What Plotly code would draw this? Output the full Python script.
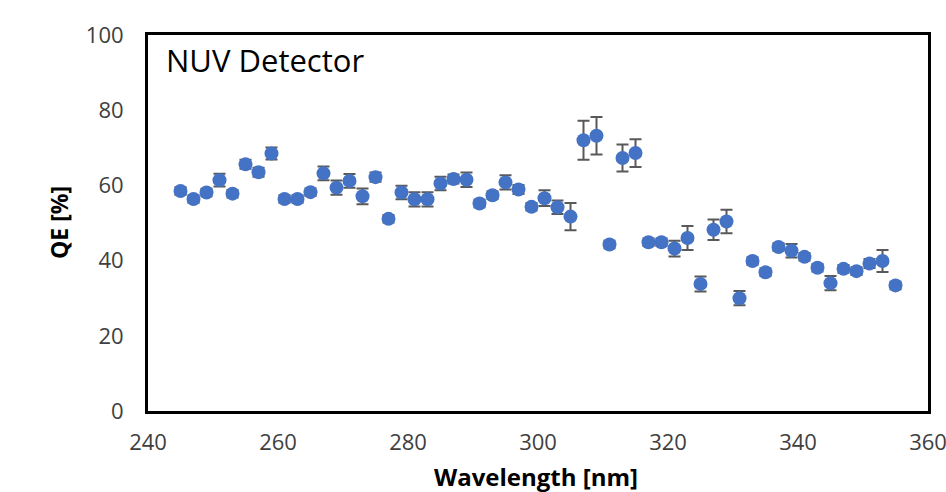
import plotly.graph_objects as go

wavelength = [245, 247, 249, 251, 253, 255, 257, 259, 261, 263, 265, 267, 269, 271,
              273, 275, 277, 279, 281, 283, 285, 287, 289, 291, 293, 295, 297, 299,
              301, 303, 305, 307, 309, 311, 313, 315, 317, 319, 321, 323, 325, 327,
              329, 331, 333, 335, 337, 339, 341, 343, 345, 347, 349, 351, 353, 355]
qe = [58.5, 56.4, 58.1, 61.4, 57.8, 65.6, 63.5, 68.5, 56.4, 56.4, 58.2, 63.2, 59.4, 61.2,
      57.1, 62.2, 51.1, 58.1, 56.3, 56.3, 60.5, 61.7, 61.5, 55.2, 57.4, 60.8, 58.9, 54.3,
      56.6, 54.2, 51.7, 72.0, 73.2, 44.3, 67.3, 68.6, 44.9, 44.9, 43.2, 46.0, 33.8, 48.2,
      50.4, 30.0, 39.9, 36.9, 43.6, 42.6, 41.0, 38.1, 34.0, 37.8, 37.2, 39.2, 39.9, 33.4]
qe_err = [1.0, 1.0, 1.0, 1.7, 1.0, 1.2, 1.2, 1.6, 1.0, 1.0, 1.0, 1.8, 1.9, 1.8,
          2.1, 1.2, 1.0, 1.8, 1.9, 1.9, 1.8, 1.2, 1.9, 1.0, 1.0, 1.9, 1.2, 1.0,
          2.1, 1.8, 3.6, 5.2, 5.0, 1.0, 3.6, 3.7, 1.0, 1.0, 2.1, 3.2, 2.0, 2.7,
          3.1, 1.9, 1.0, 1.0, 1.0, 1.8, 1.0, 1.0, 1.9, 1.0, 1.0, 1.2, 2.9, 1.0]

x_ticks = [240, 260, 280, 300, 320, 340, 360]
y_ticks = [0, 20, 40, 60, 80, 100]

FONT = "Open Sans"

fig = go.Figure()
fig.add_trace(go.Scatter(
    x=wavelength, y=qe, mode="markers",
    marker=dict(size=14, color="#4472C4"),
    error_y=dict(type="data", array=qe_err, visible=True,
                 color="#595959", thickness=2, width=6),
    showlegend=False,
))

fig.update_layout(
    width=946, height=492,
    margin=dict(l=148, r=18, t=35, b=81, autoexpand=False),
    paper_bgcolor="white", plot_bgcolor="white",
    font=dict(family=FONT, size=22, color="#404040"),
    xaxis=dict(range=[240, 360], tickvals=x_ticks, showgrid=False, zeroline=False,
               showline=True, linecolor="black", linewidth=3, mirror=True,
               ticks="", ticklabelstandoff=10, automargin=False,
               ticklabeloverflow="allow",
               tickfont=dict(family=FONT, size=22, color="#404040")),
    yaxis=dict(range=[0, 100], tickvals=y_ticks, showgrid=False, zeroline=False,
               showline=True, linecolor="black", linewidth=3, mirror=True,
               ticks="", ticklabelstandoff=17, automargin=False,
               tickfont=dict(family=FONT, size=22, color="#404040")),
    annotations=[
        dict(text="NUV Detector", xref="paper", yref="paper", x=0, y=1,
             xanchor="left", yanchor="middle", xshift=16, yshift=-25, showarrow=False,
             font=dict(family=FONT, size=31, color="black")),
        dict(text="<b>Wavelength [nm]</b>", xref="paper", yref="paper", x=0.5, y=0,
             xanchor="center", yanchor="middle", xshift=-2, yshift=-65, showarrow=False,
             font=dict(family=FONT, size=24, color="black")),
        dict(text="<b>QE [%]</b>", xref="paper", yref="paper", x=0, y=0.5,
             xanchor="center", yanchor="middle", xshift=-89, textangle=-90,
             showarrow=False, font=dict(family=FONT, size=23, color="black")),
    ],
)

fig.write_html("out.html", config={"displayModeBar": False},
               post_script="document.body.style.margin='0';document.body.style.overflow='hidden';")
